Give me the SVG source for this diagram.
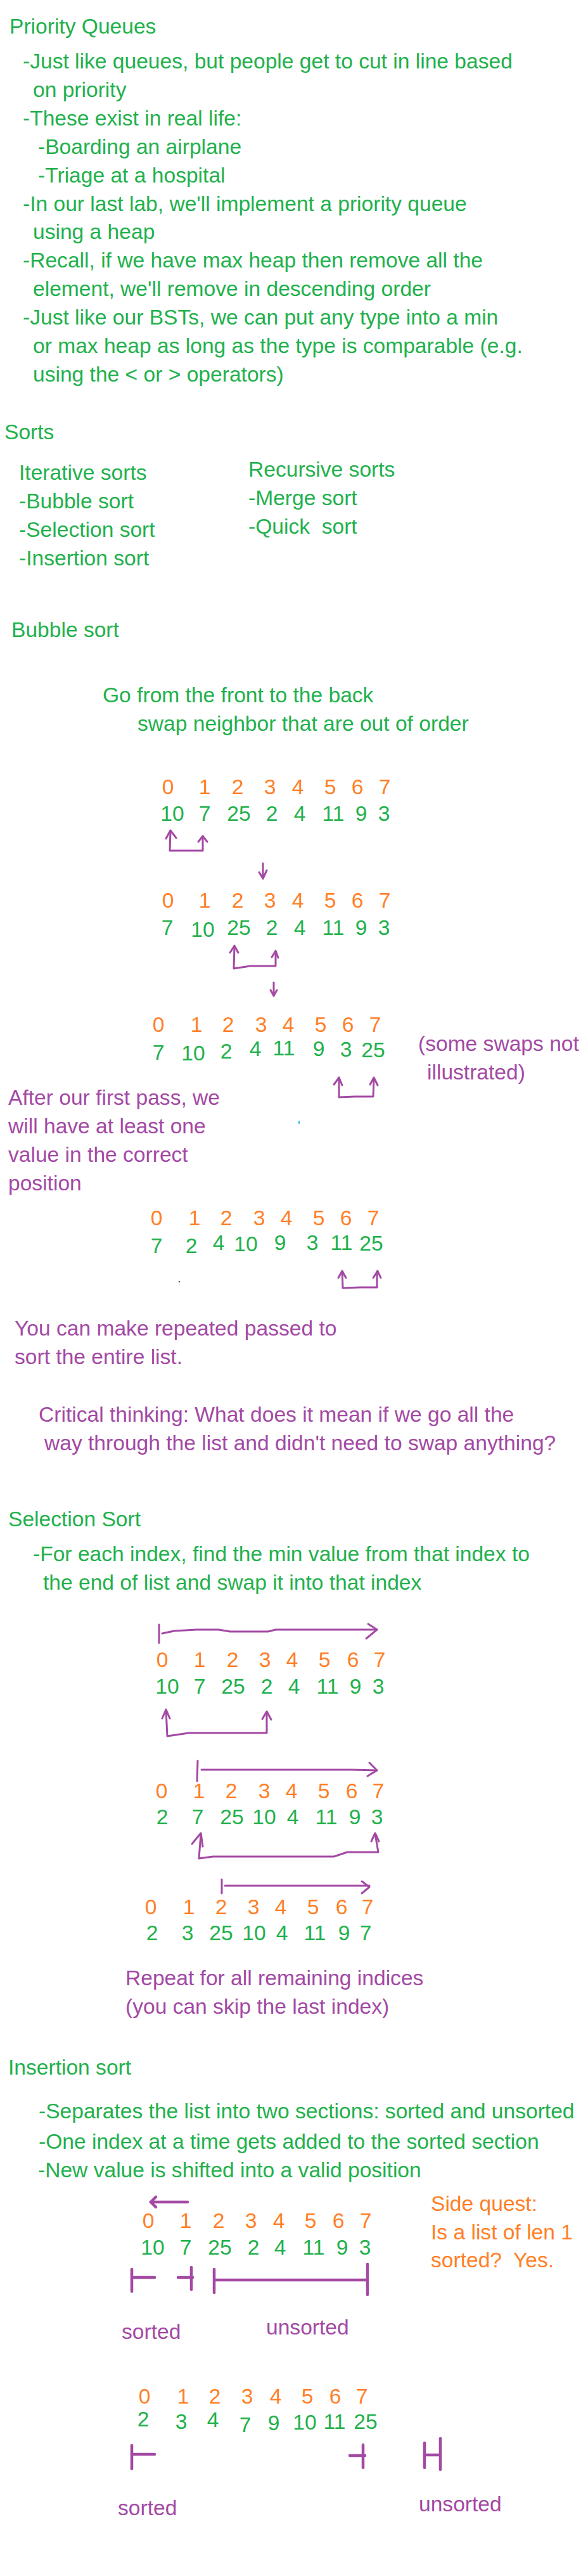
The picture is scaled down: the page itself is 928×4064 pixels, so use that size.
<svg xmlns="http://www.w3.org/2000/svg" width="928" height="4064" viewBox="0 0 928 4064">
<style>
text{font-family:"Liberation Sans",Arial,sans-serif;font-size:33.6px;white-space:pre}
.g{fill:#22b14c}.o{fill:#ff7f27}.p{fill:#a349a4}
.n text{text-anchor:middle}
.c{fill:none;stroke:#a349a4;stroke-width:3;stroke-linecap:round;stroke-linejoin:round}
.b{fill:none;stroke:#a349a4;stroke-width:4.5;stroke-linecap:round}
</style>
<rect width="928" height="4064" fill="#fff"/>

<g id="priority-queues" class="g">
<text x="15" y="53">Priority Queues</text>
<text x="36" y="108">-Just like queues, but people get to cut in line based</text>
<text x="52" y="153">on priority</text>
<text x="36" y="198">-These exist in real life:</text>
<text x="60" y="243">-Boarding an airplane</text>
<text x="60" y="288">-Triage at a hospital</text>
<text x="36" y="333">-In our last lab, we'll implement a priority queue</text>
<text x="52" y="377">using a heap</text>
<text x="36" y="422">-Recall, if we have max heap then remove all the</text>
<text x="52" y="467">element, we'll remove in descending order</text>
<text x="36" y="512">-Just like our BSTs, we can put any type into a min</text>
<text x="52" y="557">or max heap as long as the type is comparable (e.g.</text>
<text x="52" y="602">using the &lt; or &gt; operators)</text>
</g>

<g id="sorts" class="g">
<text x="7" y="693">Sorts</text>
<text x="30" y="757">Iterative sorts</text>
<text x="30" y="802">-Bubble sort</text>
<text x="30" y="847">-Selection sort</text>
<text x="30" y="892">-Insertion sort</text>
<text x="392" y="752">Recursive sorts</text>
<text x="392" y="797">-Merge sort</text>
<text x="392" y="842">-Quick  sort</text>
</g>

<g id="bubble-sort" class="g">
<text x="18" y="1005">Bubble sort</text>
<text x="162" y="1108">Go from the front to the back</text>
<text x="217" y="1153">swap neighbor that are out of order</text>
</g>

<g id="bubble-row1" class="n">
<g class="o">
<text x="265" y="1253">0</text><text x="323" y="1253">1</text><text x="375" y="1253">2</text><text x="426" y="1253">3</text><text x="470" y="1253">4</text><text x="521" y="1253">5</text><text x="564" y="1253">6</text><text x="607" y="1253">7</text>
</g>
<g class="g">
<text x="272" y="1295">10</text><text x="323" y="1295">7</text><text x="377" y="1295">25</text><text x="429" y="1295">2</text><text x="473" y="1295">4</text><text x="526" y="1295">11</text><text x="570" y="1295">9</text><text x="606" y="1295">3</text>
</g>
</g>

<g id="bubble-row2" class="n">
<g class="o">
<text x="265" y="1432">0</text><text x="323" y="1432">1</text><text x="375" y="1432">2</text><text x="426" y="1432">3</text><text x="470" y="1432">4</text><text x="521" y="1432">5</text><text x="564" y="1432">6</text><text x="607" y="1432">7</text>
</g>
<g class="g">
<text x="264" y="1475">7</text><text x="320" y="1478">10</text><text x="377" y="1475">25</text><text x="429" y="1475">2</text><text x="473" y="1475">4</text><text x="526" y="1475">11</text><text x="570" y="1475">9</text><text x="606" y="1475">3</text>
</g>
</g>

<g id="bubble-row3" class="n">
<g class="o">
<text x="250" y="1628">0</text><text x="310" y="1628">1</text><text x="360" y="1628">2</text><text x="412" y="1628">3</text><text x="455" y="1628">4</text><text x="506" y="1628">5</text><text x="549" y="1628">6</text><text x="592" y="1628">7</text>
</g>
<g class="g">
<text x="250" y="1672">7</text><text x="305" y="1673">10</text><text x="357" y="1670">2</text><text x="403" y="1666">4</text><text x="448" y="1665">11</text><text x="503" y="1666">9</text><text x="546" y="1667">3</text><text x="589" y="1668">25</text>
</g>
</g>

<g id="note-some-swaps" class="p">
<text x="660" y="1658">(some swaps not</text>
<text x="674" y="1703">illustrated)</text>
</g>

<g id="note-first-pass" class="p">
<text x="13" y="1743">After our first pass, we</text>
<text x="13" y="1788">will have at least one</text>
<text x="13" y="1833">value in the correct</text>
<text x="13" y="1878">position</text>
</g>

<g id="bubble-row4" class="n">
<g class="o">
<text x="247" y="1933">0</text><text x="307" y="1933">1</text><text x="357" y="1933">2</text><text x="409" y="1933">3</text><text x="452" y="1933">4</text><text x="503" y="1933">5</text><text x="546" y="1933">6</text><text x="589" y="1933">7</text>
</g>
<g class="g">
<text x="247" y="1977">7</text><text x="302" y="1977">2</text><text x="345" y="1972">4</text><text x="388" y="1974">10</text><text x="442" y="1972">9</text><text x="493" y="1972">3</text><text x="539" y="1972">11</text><text x="586" y="1973">25</text>
</g>
</g>

<g id="note-repeated" class="p">
<text x="23" y="2107">You can make repeated passed to</text>
<text x="23" y="2152">sort the entire list.</text>
<text x="61" y="2243">Critical thinking: What does it mean if we go all the</text>
<text x="70" y="2288">way through the list and didn't need to swap anything?</text>
</g>

<g id="selection-sort" class="g">
<text x="13" y="2408">Selection Sort</text>
<text x="52" y="2463">-For each index, find the min value from that index to</text>
<text x="68" y="2508">the end of list and swap it into that index</text>
</g>

<g id="selection-row1" class="n">
<g class="o">
<text x="256" y="2630">0</text><text x="315" y="2630">1</text><text x="367" y="2630">2</text><text x="418" y="2630">3</text><text x="461" y="2630">4</text><text x="512" y="2630">5</text><text x="557" y="2630">6</text><text x="599" y="2630">7</text>
</g>
<g class="g">
<text x="264" y="2672">10</text><text x="315" y="2672">7</text><text x="368" y="2672">25</text><text x="421" y="2672">2</text><text x="464" y="2672">4</text><text x="517" y="2672">11</text><text x="561" y="2672">9</text><text x="597" y="2672">3</text>
</g>
</g>

<g id="selection-row2" class="n">
<g class="o">
<text x="255" y="2837">0</text><text x="314" y="2837">1</text><text x="365" y="2837">2</text><text x="417" y="2837">3</text><text x="460" y="2837">4</text><text x="511" y="2837">5</text><text x="555" y="2837">6</text><text x="597" y="2837">7</text>
</g>
<g class="g">
<text x="256" y="2878">2</text><text x="312" y="2878">7</text><text x="366" y="2878">25</text><text x="417" y="2878">10</text><text x="462" y="2878">4</text><text x="515" y="2878">11</text><text x="560" y="2878">9</text><text x="595" y="2878">3</text>
</g>
</g>

<g id="selection-row3" class="n">
<g class="o">
<text x="238" y="3020">0</text><text x="298" y="3020">1</text><text x="349" y="3020">2</text><text x="400" y="3020">3</text><text x="443" y="3020">4</text><text x="494" y="3020">5</text><text x="539" y="3020">6</text><text x="580" y="3020">7</text>
</g>
<g class="g">
<text x="240" y="3061">2</text><text x="296" y="3061">3</text><text x="349" y="3061">25</text><text x="401" y="3061">10</text><text x="445" y="3061">4</text><text x="497" y="3061">11</text><text x="543" y="3061">9</text><text x="577" y="3061">7</text>
</g>
</g>

<g id="note-repeat" class="p">
<text x="198" y="3132">Repeat for all remaining indices</text>
<text x="198" y="3177">(you can skip the last index)</text>
</g>

<g id="insertion-sort" class="g">
<text x="13" y="3273">Insertion sort</text>
<text x="61" y="3342">-Separates the list into two sections: sorted and unsorted</text>
<text x="61" y="3390">-One index at a time gets added to the sorted section</text>
<text x="60" y="3435">-New value is shifted into a valid position</text>
</g>

<g id="insertion-row1" class="n">
<g class="o">
<text x="234" y="3515">0</text><text x="293" y="3515">1</text><text x="345" y="3515">2</text><text x="396" y="3515">3</text><text x="440" y="3515">4</text><text x="490" y="3515">5</text><text x="534" y="3515">6</text><text x="577" y="3515">7</text>
</g>
<g class="g">
<text x="241" y="3557">10</text><text x="293" y="3557">7</text><text x="347" y="3557">25</text><text x="400" y="3557">2</text><text x="442" y="3557">4</text><text x="495" y="3557">11</text><text x="540" y="3557">9</text><text x="576" y="3557">3</text>
</g>
</g>

<g id="side-quest" class="o">
<text x="680" y="3488">Side quest:</text>
<text x="680" y="3533">Is a list of len 1</text>
<text x="680" y="3577">sorted?  Yes.</text>
</g>

<g id="labels-1" class="p">
<text x="192" y="3690">sorted</text>
<text x="420" y="3683">unsorted</text>
</g>

<g id="insertion-row2" class="n">
<g class="o">
<text x="228" y="3792">0</text><text x="289" y="3792">1</text><text x="339" y="3792">2</text><text x="390" y="3792">3</text><text x="435" y="3792">4</text><text x="485" y="3792">5</text><text x="529" y="3792">6</text><text x="571" y="3792">7</text>
</g>
<g class="g">
<text x="226" y="3828">2</text><text x="286" y="3832">3</text><text x="336" y="3829">4</text><text x="387" y="3837">7</text><text x="432" y="3834">9</text><text x="481" y="3833">10</text><text x="528" y="3832">11</text><text x="577" y="3832">25</text>
</g>
</g>

<g id="labels-2" class="p">
<text x="186" y="3968">sorted</text>
<text x="661" y="3962">unsorted</text>
</g>

<g id="connectors">
<path class="c" d="M269 1311 L268 1342 L320 1342 L320 1319"/>
<path class="c" d="M262 1323 L269 1310 L278 1322"/>
<path class="c" d="M313 1328 L320 1319 L327 1328"/>
<path class="c" d="M415 1362 L415 1386"/>
<path class="c" d="M409 1376 L415 1386 L421 1373"/>
<path class="c" d="M370 1493 L369 1528 L395 1524 L435 1524 L435 1501"/>
<path class="c" d="M363 1503 L370 1492 L376 1503"/>
<path class="c" d="M429 1510 L435 1500 L439 1511"/>
<path class="c" d="M432 1550 L432 1571"/>
<path class="c" d="M427 1562 L432 1571 L437 1562"/>
<path class="c" d="M535 1700 L535 1731 L560 1730 L589 1730 L590 1701"/>
<path class="c" d="M527 1711 L535 1700 L540 1712"/>
<path class="c" d="M584 1711 L590 1700 L596 1712"/>
<path class="c" d="M540 2006 L541 2032 L568 2031 L595 2031 L595 2006"/>
<path class="c" d="M534 2016 L540 2005 L546 2016"/>
<path class="c" d="M589 2016 L596 2005 L601 2016"/>
<path d="M472 1768 L472 1773" stroke="#00a2e8" stroke-width="1.5"/>
<circle cx="283" cy="2022" r="1.3" fill="#555"/>
<path class="c" d="M251 2563 L251 2592"/>
<path class="c" d="M256 2577 L275 2573 L310 2571 L345 2571 L363 2574 L423 2574 L435 2571 L595 2571"/>
<path class="c" d="M581 2562 L595 2571 L578 2585"/>
<path class="c" d="M262 2698 L264 2739 L298 2734 L421 2734 L421 2701"/>
<path class="c" d="M256 2711 L262 2697 L268 2711"/>
<path class="c" d="M414 2712 L421 2700 L428 2713"/>
<path class="c" d="M312 2778 L311 2810"/>
<path class="c" d="M318 2792 L555 2792 L595 2793"/>
<path class="c" d="M583 2781 L595 2793 L580 2802"/>
<path class="c" d="M317 2893 L314 2932 L336 2929 L527 2929 L548 2922 L597 2922 L592 2893"/>
<path class="c" d="M303 2909 L317 2892 L320 2913"/>
<path class="c" d="M586 2905 L592 2892 L598 2905"/>
<path class="c" d="M350 2965 L350 2987"/>
<path class="c" d="M355 2975 L583 2975"/>
<path class="c" d="M571 2968 L583 2977 L571 2987"/>
<path class="b" d="M296 3474 L240 3474"/>
<path class="b" d="M246 3466 L238 3474 L246 3482"/>
<path class="b" d="M208 3580 L208 3615 M208 3593 L244 3593"/>
<path class="b" d="M281 3593 L304 3593 M302 3577 L302 3612"/>
<path class="b" d="M338 3580 L338 3617 M338 3597 L580 3597 M580 3572 L580 3620"/>
<path class="b" d="M208 3858 L208 3895 M208 3872 L244 3872"/>
<path class="b" d="M552 3874 L576 3874 M573 3857 L573 3893"/>
<path class="b" d="M670 3854 L670 3893 M670 3873 L695 3873 M695 3847 L695 3896"/>
</g>
</svg>
